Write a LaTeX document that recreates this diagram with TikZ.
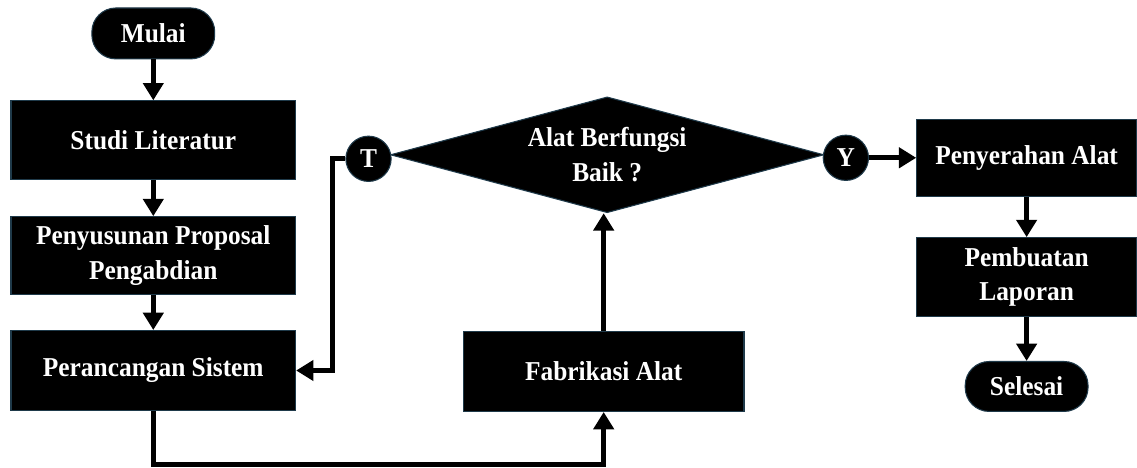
\documentclass[tikz,border=0pt]{standalone}
\usepackage{fontspec}
\setmainfont{Liberation Serif}[FakeStretch=0.93]
\usetikzlibrary{arrows.meta,shapes.geometric}
\definecolor{tepi}{HTML}{1F3A4A}

\begin{document}
\begin{tikzpicture}[x=0.75pt, y=-0.75pt, >={Triangle[length=13pt,width=15pt]},
    kotak/.style={rectangle, fill=black, draw=tepi, line width=0.8pt, text=white,
        font=\bfseries\fontsize{20.5}{26}\selectfont, align=center, inner sep=0pt},
    terminal/.style={kotak, rounded corners=18pt},
    keputusan/.style={kotak, diamond, aspect=3.7},
    bulat/.style={kotak, circle, minimum size=34pt},
    alur/.style={line width=3.75pt, ->},
    garis/.style={line width=3.75pt}]

    % Latar dan batas gambar
    \fill[white] (0,0) rectangle (1137,468);

    % Kolom kiri
    \node[terminal, minimum width=92.25pt, minimum height=38.25pt] (mulai) at (153.5,33.5) {Mulai};
    \node[kotak, minimum width=213.75pt, minimum height=59.25pt] (studi) at (153.5,140.5) {Studi Literatur};
    \node[kotak, minimum width=213.75pt, minimum height=58.5pt] (proposal) at (153.5,256) {Penyusunan Proposal\\Pengabdian};
    \node[kotak, minimum width=213.75pt, minimum height=60pt] (rancang) at (153.5,371) {Perancangan Sistem};

    % Bagian tengah
    \node[kotak, minimum width=210.75pt, minimum height=60pt] (fabrikasi) at (604.5,372) {Fabrikasi Alat};
    \node[keputusan, minimum width=325.5pt, minimum height=87pt] (cek) at (608,155) {Alat Berfungsi\\Baik ?};
    \node[bulat] (tidak) at (369,159) {T};
    \node[bulat] (ya) at (847,158) {Y};

    % Kolom kanan
    \node[kotak, minimum width=165pt, minimum height=57.75pt] (serah) at (1028,158) {Penyerahan Alat};
    \node[kotak, minimum width=165pt, minimum height=59.25pt] (laporan) at (1028,277.5) {Pembuatan\\Laporan};
    \node[terminal, minimum width=92.25pt, minimum height=37.5pt] (selesai) at (1028,387) {Selesai};

    % Alur
    \draw[alur] (mulai) -- (studi);
    \draw[alur] (studi) -- (proposal);
    \draw[alur] (proposal) -- (rancang);
    \draw[alur] (rancang.south) -- ++(0,54) -| (fabrikasi.south);
    \draw[alur] (fabrikasi.north) -- (fabrikasi.north |- cek.south);
    \draw[alur] (tidak.west) -- ++(-13,0) |- (rancang.east);
    \draw[alur] (ya.east) -- (serah.west);
    \draw[alur] (serah) -- (laporan);
    \draw[alur] (laporan) -- (selesai);

\end{tikzpicture}
\end{document}
